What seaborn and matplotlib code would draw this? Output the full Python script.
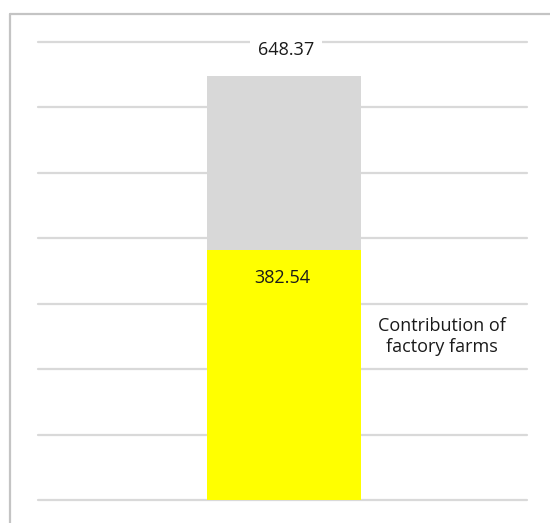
import matplotlib
matplotlib.use("Agg")
import matplotlib.pyplot as plt
from matplotlib.lines import Line2D
import seaborn as sns
import pandas as pd

# Data
categories = ["Total"]
total_values = [648.37]
factory_values = [382.54]
series_label = "Contribution of\nfactory farms"
y_ticks = [0, 100, 200, 300, 400, 500, 600, 700]

sns.set_theme(style="white")
plt.rcParams["font.family"] = ["Open Sans", "DejaVu Sans"]

W, H = 550, 523
fig = plt.figure(figsize=(W / 100, H / 100), dpi=100)
fig.patch.set_facecolor("white")

# plot area in pixel terms
left_px, right_px, top_px, bottom_px = 38, 527, 42, 500
ax = fig.add_axes([left_px / W, (H - bottom_px) / H,
                   (right_px - left_px) / W, (bottom_px - top_px) / H])

df_total = pd.DataFrame({"cat": categories, "value": total_values})
df_factory = pd.DataFrame({"cat": categories, "value": factory_values})

sns.barplot(data=df_total, x="cat", y="value", color="#d8d8d8",
            saturation=1, width=0.8, ax=ax, zorder=2, linewidth=0,
            edgecolor="none")
sns.barplot(data=df_factory, x="cat", y="value", color="#ffff00",
            saturation=1, width=0.8, ax=ax, zorder=3, linewidth=0,
            edgecolor="none")

ax.set_ylim(0, 700)
ax.set_xlim(-1.278, 1.262)
ax.set_yticks(y_ticks)
ax.yaxis.grid(True, color="#d9d9d9", linewidth=1.6, zorder=0)
for gl in ax.get_ygridlines():
    gl.set_clip_on(False)
ax.set_axisbelow(True)
ax.tick_params(left=False, bottom=False, labelleft=False, labelbottom=False)
ax.set_xlabel("")
ax.set_ylabel("")
for s in ax.spines.values():
    s.set_visible(False)

# value labels
ax.text(0.01, total_values[0] + 40, f"{total_values[0]:.2f}", ha="center",
        va="center", fontsize=13, color="#1a1a1a", zorder=5,
        bbox=dict(facecolor="white", edgecolor="none", pad=6))
ax.text(-0.01, factory_values[0] - 43, f"{factory_values[0]:.2f}", ha="center",
        va="center", fontsize=13, color="#1a1a1a", zorder=5)

# series label to the right of the bar
ax.text(0.82, 250, series_label, ha="center", va="center", fontsize=13,
        color="#1a1a1a", linespacing=1.2, zorder=5)

# outer chart frame (top and left edges)
fig.add_artist(Line2D([10 / W, 10 / W], [0, 1 - 14 / H],
                      transform=fig.transFigure, color="#c4c4c4", linewidth=1.6))
fig.add_artist(Line2D([10 / W, 1], [1 - 14 / H, 1 - 14 / H],
                      transform=fig.transFigure, color="#c4c4c4", linewidth=1.6))

fig.savefig("out.png", dpi=100, facecolor="white")
